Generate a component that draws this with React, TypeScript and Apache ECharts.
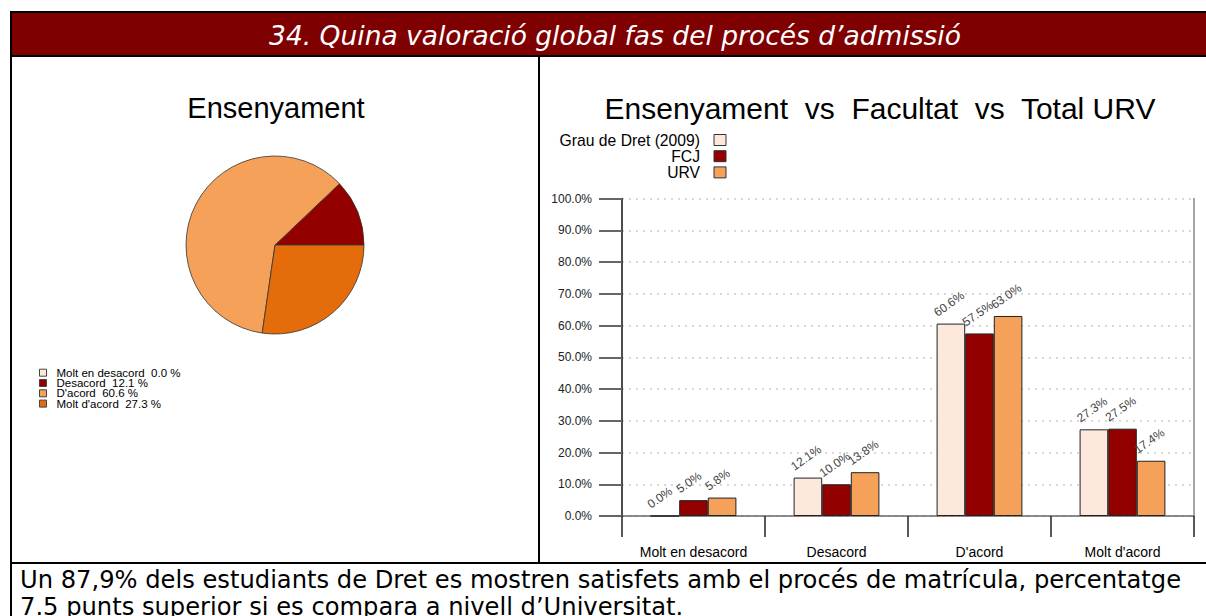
import React, { useEffect, useRef } from 'react';
import * as echarts from 'echarts';

const headerTitle = '34. Quina valoració global fas del procés d’admissió';
const pieTitle = 'Ensenyament';
const barTitle = 'Ensenyament  vs  Facultat  vs  Total URV';
const commentLines = [
  'Un 87,9% dels estudiants de Dret es mostren satisfets amb el procés de matrícula, percentatge',
  '7.5 punts superior si es compara a nivell d’Universitat.',
];

const categories = ['Molt en desacord', 'Desacord', "D'acord", "Molt d'acord"];
const pieValues = [0.0, 12.1, 60.6, 27.3];
const pieColors = ['#FDE9DB', '#920000', '#F6A15A', '#E46C0A'];

const seriesNames = ['Grau de Dret (2009)', 'FCJ', 'URV'];
const grauValues = [0.0, 12.1, 60.6, 27.3];
const fcjValues = [5.0, 10.0, 57.5, 27.5];
const urvValues = [5.8, 13.8, 63.0, 17.4];
const barColors = ['#FDE9DB', '#920000', '#F6A15A'];

const yMin = 0;
const yMax = 100;
const yInterval = 10;

const CHART_FONT = "'Liberation Sans', Arial, sans-serif";
const BODY_FONT = "'DejaVu Sans', Verdana, sans-serif";

function buildOption() {
  const barData = [grauValues, fcjValues, urvValues];
  const graphic: any[] = [];

  // frame
  graphic.push({ type: 'rect', shape: { x: 10, y: 11, width: 1200, height: 46 }, style: { fill: '#000' }, silent: true });
  graphic.push({ type: 'rect', shape: { x: 12, y: 13, width: 1200, height: 42 }, style: { fill: '#7F0000' }, silent: true });
  graphic.push({ type: 'rect', shape: { x: 10, y: 11, width: 2, height: 610 }, style: { fill: '#000' }, silent: true });
  graphic.push({ type: 'rect', shape: { x: 538, y: 55, width: 2, height: 509 }, style: { fill: '#000' }, silent: true });
  graphic.push({ type: 'rect', shape: { x: 10, y: 562, width: 1200, height: 2 }, style: { fill: '#000' }, silent: true });

  graphic.push({
    type: 'text', x: 615, y: 35, silent: true,
    style: { text: headerTitle, fill: '#fff', font: `italic 26.5px ${BODY_FONT}`, align: 'center', verticalAlign: 'middle', textAlign: 'center', textVerticalAlign: 'middle' },
  });

  commentLines.forEach((line, i) => {
    graphic.push({
      type: 'text', x: 20, y: 580 + i * 27, silent: true,
      style: { text: line, fill: '#000', font: `24.2px ${BODY_FONT}`, align: 'left', verticalAlign: 'middle', textAlign: 'left', textVerticalAlign: 'middle' },
    });
  });

  graphic.push({
    type: 'text', x: 276, y: 108, silent: true,
    style: { text: pieTitle, fill: '#000', font: `29px ${CHART_FONT}`, align: 'center', verticalAlign: 'middle', textAlign: 'center', textVerticalAlign: 'middle' },
  });
  graphic.push({
    type: 'text', x: 880, y: 108, silent: true,
    style: { text: barTitle, fill: '#000', font: `30px ${CHART_FONT}`, align: 'center', verticalAlign: 'middle', textAlign: 'center', textVerticalAlign: 'middle' },
  });

  // pie legend
  categories.forEach((name, i) => {
    const cy = 372.7 + i * 10.3;
    graphic.push({ type: 'rect', shape: { x: 39.5, y: cy - 3.5, width: 7, height: 7 }, style: { fill: pieColors[i], stroke: '#444', lineWidth: 1 }, silent: true });
    graphic.push({
      type: 'text', x: 56.5, y: cy, silent: true,
      style: { text: `${name}  ${pieValues[i].toFixed(1)} %`, fill: '#000', font: `11.5px ${CHART_FONT}`, align: 'left', verticalAlign: 'middle', textAlign: 'left', textVerticalAlign: 'middle' },
    });
  });

  // bar legend
  seriesNames.forEach((name, i) => {
    const cy = 140 + i * 16.2;
    graphic.push({ type: 'rect', shape: { x: 714, y: cy - 5.5, width: 12, height: 11 }, style: { fill: barColors[i], stroke: '#333', lineWidth: 1 }, silent: true });
    graphic.push({
      type: 'text', x: 700, y: cy, silent: true,
      style: { text: name, fill: '#000', font: `15.7px ${CHART_FONT}`, align: 'right', verticalAlign: 'middle', textAlign: 'right', textVerticalAlign: 'middle' },
    });
  });

  const barSeries = seriesNames.map((name, i) => ({
    type: 'bar',
    name,
    data: barData[i],
    xAxisIndex: 0,
    yAxisIndex: 0,
    barGap: '0%',
    barCategoryGap: '40%',
    silent: true,
    itemStyle: { color: barColors[i], borderColor: '#222', borderWidth: 1 },
    label: {
      show: true,
      position: [2, -5],
      align: 'left',
      verticalAlign: 'bottom',
      rotate: 35,
      fontSize: 12,
      fontFamily: CHART_FONT,
      color: '#444',
      formatter: (p: any) => `${Number(p.value).toFixed(1)}%`,
    },
  }));

  return {
    animation: false,
    backgroundColor: '#fff',
    graphic: { elements: graphic },
    grid: { left: 622, right: 12, top: 198.5, bottom: 100 },
    xAxis: {
      type: 'category',
      data: categories,
      boundaryGap: true,
      axisLine: { show: true, lineStyle: { color: '#666', width: 1.5 } },
      axisTick: { show: true, length: 21, lineStyle: { color: '#222', width: 1.5 } },
      axisLabel: { margin: 29, fontSize: 14, color: '#000', fontFamily: CHART_FONT },
      splitLine: { show: false },
    },
    yAxis: [
      {
        type: 'value',
        min: yMin,
        max: yMax,
        interval: yInterval,
        axisLine: { show: true, lineStyle: { color: '#111', width: 1.5 } },
        axisTick: { show: true, length: 23, lineStyle: { color: '#666', width: 2 } },
        axisLabel: {
          margin: 30, fontSize: 12, color: '#222', fontFamily: CHART_FONT,
          formatter: (v: number) => `${v.toFixed(1)}%`,
        },
        splitLine: { show: true, lineStyle: { type: [2, 5], color: '#ccc', width: 1.5 } },
      },
      {
        type: 'value',
        position: 'right',
        min: yMin,
        max: yMax,
        interval: yInterval,
        axisLine: { show: true, lineStyle: { color: '#888', width: 1.5 } },
        axisTick: { show: false },
        axisLabel: { show: false },
        splitLine: { show: false },
      },
    ],
    series: [
      {
        type: 'pie',
        name: pieTitle,
        center: [275, 245],
        radius: 89,
        startAngle: 0,
        clockwise: false,
        silent: true,
        label: { show: false },
        labelLine: { show: false },
        itemStyle: { borderColor: '#333', borderWidth: 0.8 },
        data: categories.map((name, i) => ({ name, value: pieValues[i], itemStyle: { color: pieColors[i] } })),
      },
      ...barSeries,
    ],
  };
}

export default function App() {
  const ref = useRef<HTMLDivElement>(null);
  useEffect(() => {
    if (!ref.current) return;
    const chart = echarts.init(ref.current, null, { renderer: 'svg' });
    chart.setOption(buildOption() as any);
    return () => chart.dispose();
  }, []);
  return (
    <div
      ref={ref}
      style={{ position: 'fixed', left: 0, top: 0, width: 1206, height: 616, background: '#fff' }}
    />
  );
}
